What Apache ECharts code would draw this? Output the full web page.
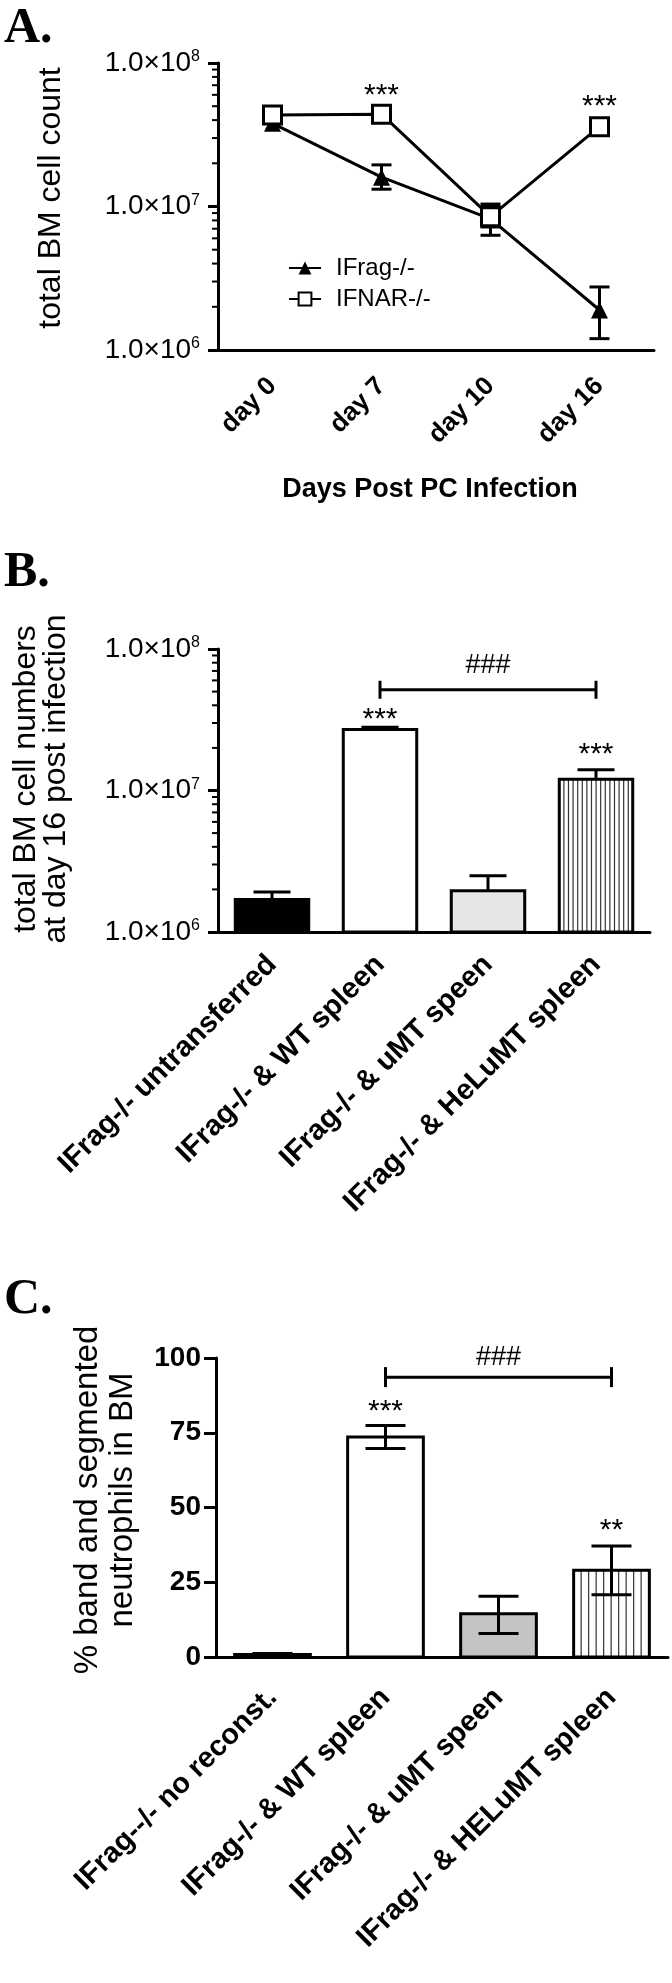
<!DOCTYPE html>
<html><head><meta charset="utf-8">
<script src="https://cdn.jsdelivr.net/npm/echarts@6/dist/echarts.min.js"></script>
<style>html,body{margin:0;padding:0;background:#fff}#c{width:672px;height:1983px}</style>
</head><body><div id="c"></div>
<script>
const F = '"Liberation Sans", Arial, Helvetica, sans-serif';
const SERIF = '"Liberation Serif", "Times New Roman", serif';

// ---------- Panel A ----------
const daysA = ['day 0', 'day 7', 'day 10', 'day 16'];
const ifragMean = [3.8e7, 1.6e7, 8.2e6, 1.9e6];
const ifragLow  = [3.8e7, 1.32e7, 6.3e6, 1.2e6];
const ifragHigh = [3.8e7, 1.95e7, 1.0e7, 2.75e6];
const ifnarMean = [4.35e7, 4.4e7, 8.5e6, 3.6e7];
const ifnarLow  = [4.35e7, 4.4e7, 7.2e6, 3.6e7];
const ifnarHigh = [4.35e7, 4.4e7, 1.04e7, 3.6e7];
const starsA    = ['', '***', '', '***'];
const starsAAt  = [null, 6.6e7, null, 5.5e7];

// ---------- Panel B ----------
const groupsB   = ['IFrag-/- untransferred', 'IFrag-/- & WT spleen', 'IFrag-/- & uMT speen', 'IFrag-/- & HeLuMT spleen'];
const meanB     = [1.7e6, 2.7e7, 1.96e6, 1.2e7];
const semHighB  = [1.92e6, 2.8e7, 2.5e6, 1.4e7];
const starsB    = ['', '***', '', '***'];
const starsBAt  = [null, 3.55e7, null, 1.98e7];
const bracketB  = [1, 3, 5.15e7, 7.6e7];   // from, to, line level, ### level

// ---------- Panel C ----------
const groupsC   = ['IFrag--/- no reconst.', 'IFrag-/- & WT spleen', 'IFrag-/- & uMT speen', 'IFrag-/- & HELuMT spleen'];
const meanC     = [0.8, 73.6, 14.5, 29.0];
const lowC      = [0.4, 69.7, 7.9, 20.8];
const highC     = [1.2, 77.4, 20.3, 37.1];
const starsC    = ['', '***', '', '**'];
const starsCAt  = [null, 84.3, null, 44.5];
const bracketC  = [1, 3, 93.6, 100.3];

const minorLog = [2e6,3e6,4e6,5e6,6e6,7e6,8e6,9e6,2e7,3e7,4e7,5e7,6e7,7e7,8e7,9e7];

// styles (not data)
const fillsB = ['#000000', '#ffffff', '#e6e6e6', '#ffffff'];
const fillsC = ['#000000', '#ffffff', '#c4c4c4', '#ffffff'];
const stripedBar = [false, false, false, true];

const axisLineStyle = {color: '#000', width: 3};

function minorTickRender(params, api) {
  const y = api.coord([0, api.value(1)])[1];
  const x0 = params.coordSys.x;
  return {type: 'line', shape: {x1: x0 - 6, y1: y, x2: x0, y2: y}, style: {stroke: '#000', lineWidth: 2}};
}
function makeErr(capW, lowCap) {
  return function (params, api) {
    const i = api.value(0);
    const pl = api.coord([i, api.value(1)]), ph = api.coord([i, api.value(2)]);
    const x = pl[0], h = capW / 2;
    const st = {stroke: '#000', lineWidth: 3};
    const ch = [
      {type: 'line', shape: {x1: x, y1: pl[1], x2: x, y2: ph[1]}, style: st},
      {type: 'line', shape: {x1: x - h, y1: ph[1], x2: x + h, y2: ph[1]}, style: st}
    ];
    if (lowCap) ch.push({type: 'line', shape: {x1: x - h, y1: pl[1], x2: x + h, y2: pl[1]}, style: st});
    return {type: 'group', children: ch};
  };
}
function makeBar(fills, base, frac, gap) {
  return function (params, api) {
    const i = api.value(0), v = api.value(1);
    const top = api.coord([i, v]);
    const bot = api.coord([i, base]);
    const band = api.coord([1, v])[0] - api.coord([0, v])[0];
    const w = band * frac;
    const x = top[0] - w / 2;
    const ch = [{type: 'rect', shape: {x: x, y: top[1], width: w, height: bot[1] - top[1]}, style: {fill: fills[i]}}];
    if (stripedBar[i]) {
      for (let sx = x + gap; sx < x + w - 1; sx += gap) {
        ch.push({type: 'line', shape: {x1: sx, y1: top[1], x2: sx, y2: bot[1]}, style: {stroke: '#333', lineWidth: 1.2}});
      }
    }
    ch.push({type: 'rect', shape: {x: x, y: top[1], width: w, height: bot[1] - top[1]}, style: {fill: 'none', stroke: '#000', lineWidth: 3}});
    return {type: 'group', children: ch};
  };
}
function makeStars(texts, fs) {
  return function (params, api) {
    const i = api.value(0);
    const p = api.coord([i, api.value(1)]);
    return {type: 'text', x: p[0], y: p[1] + fs * 0.22,
      style: {text: texts[i], font: fs + 'px ' + F, fill: '#000', align: 'center', verticalAlign: 'middle'}};
  };
}
function makeBracket(tick) {
  return function (params, api) {
    const a = api.coord([api.value(0), api.value(2)]);
    const b = api.coord([api.value(1), api.value(2)]);
    const m = api.coord([(api.value(0) + api.value(1)) / 2, api.value(3)]);
    const st = {stroke: '#000', lineWidth: 3};
    return {type: 'group', children: [
      {type: 'line', shape: {x1: a[0], y1: a[1], x2: b[0], y2: b[1]}, style: st},
      {type: 'line', shape: {x1: a[0], y1: a[1] - tick, x2: a[0], y2: a[1] + tick}, style: st},
      {type: 'line', shape: {x1: b[0], y1: b[1] - tick, x2: b[0], y2: b[1] + tick}, style: st},
      {type: 'text', x: m[0], y: m[1], style: {text: '###', font: '27px ' + F, fill: '#000', align: 'center', verticalAlign: 'middle'}}
    ]};
  };
}
function idxPairs(arrA, arrB) { return arrA.map((v, i) => [i, v, arrB[i]]); }
function starData(at) { return at.map((v, i) => v == null ? null : [i, v]).filter(d => d); }

const logLabel = {
  formatter: v => '{m|1.0×10}{s|' + Math.round(Math.log10(v)) + '}',
  margin: 18,
  rich: {
    m: {fontSize: 28, fontFamily: F, color: '#000'},
    s: {fontSize: 16, fontFamily: F, color: '#000', verticalAlign: 'top'}
  }
};
function catAxis(grid, data, fs, margin) {
  return {gridIndex: grid, type: 'category', data: data, boundaryGap: true,
    axisLine: {lineStyle: axisLineStyle},
    axisTick: {alignWithLabel: true, interval: 0, length: 10, lineStyle: {color: '#000', width: 3}},
    axisLabel: {rotate: 45, interval: 0, margin: margin, fontSize: fs, fontWeight: 'bold', fontFamily: F, color: '#000', hideOverlap: false},
    splitLine: {show: false}};
}
function logAxis(grid) {
  return {gridIndex: grid, type: 'log', logBase: 10, min: 1e6, max: 1e8,
    axisLine: {show: true, lineStyle: axisLineStyle},
    axisTick: {show: true, length: 10, lineStyle: {color: '#000', width: 3}},
    splitLine: {show: false}, axisLabel: logLabel};
}

const errA = [];
ifragMean.forEach((m, i) => { if (ifragHigh[i] > ifragLow[i]) errA.push([i, ifragLow[i], ifragHigh[i]]); });
ifnarMean.forEach((m, i) => { if (ifnarHigh[i] > ifnarLow[i]) errA.push([i, ifnarLow[i], ifnarHigh[i]]); });

const option = {
  animation: false,
  backgroundColor: '#fff',
  grid: [
    {left: 218, top: 63, width: 436, height: 287},
    {left: 218, top: 649, width: 432, height: 283},
    {left: 216, top: 1358, width: 452, height: 299}
  ],
  xAxis: [catAxis(0, daysA, 26, 32), catAxis(1, groupsB, 29, 28), catAxis(2, groupsC, 29, 36)],
  yAxis: [
    logAxis(0), logAxis(1),
    {gridIndex: 2, type: 'value', min: 0, max: 100, interval: 25,
      axisLine: {show: true, lineStyle: axisLineStyle},
      axisTick: {show: true, length: 12, lineStyle: {color: '#000', width: 3}},
      splitLine: {show: false},
      axisLabel: {fontSize: 28, fontWeight: 'bold', fontFamily: F, color: '#000', margin: 15}}
  ],
  legend: {
    orient: 'vertical', left: 283, top: 251, itemWidth: 32, itemHeight: 16, itemGap: 7,
    data: ['IFrag-/-', 'IFNAR-/-'],
    textStyle: {fontSize: 24, fontFamily: F, color: '#000', padding: [0, 0, 0, 10]}
  },
  graphic: [
    {type: 'text', left: 4, top: 4, style: {text: 'A.', font: 'bold 50px ' + SERIF, fill: '#000'}},
    {type: 'text', left: 4, top: 548, style: {text: 'B.', font: 'bold 50px ' + SERIF, fill: '#000'}},
    {type: 'text', left: 4, top: 1275, style: {text: 'C.', font: 'bold 50px ' + SERIF, fill: '#000'}},
    {type: 'text', x: 51, y: 198, rotation: Math.PI / 2,
      style: {text: 'total BM cell count', font: '32px ' + F, fill: '#000', align: 'center', verticalAlign: 'middle'}},
    {type: 'text', x: 41, y: 779, rotation: Math.PI / 2,
      style: {text: 'total BM cell numbers\nat day 16 post infection', font: '32px ' + F, lineHeight: 30, fill: '#000', align: 'center', verticalAlign: 'middle'}},
    {type: 'text', x: 105, y: 1500, rotation: Math.PI / 2,
      style: {text: '% band and segmented\nneutrophils in BM', font: '33px ' + F, lineHeight: 35, fill: '#000', align: 'center', verticalAlign: 'middle'}},
    {type: 'text', x: 430, y: 490,
      style: {text: 'Days Post PC Infection', font: 'bold 27px ' + F, fill: '#000', align: 'center', verticalAlign: 'middle'}}
  ],
  series: [
    // Panel A
    {type: 'custom', xAxisIndex: 0, yAxisIndex: 0, renderItem: makeErr(20, true), data: errA, encode: {x: 0, y: [1, 2]}, z: 2, silent: true},
    {name: 'IFrag-/-', type: 'line', xAxisIndex: 0, yAxisIndex: 0, data: ifragMean, symbol: 'triangle', symbolSize: 17,
      itemStyle: {color: '#000'}, lineStyle: {color: '#000', width: 3}, z: 3},
    {name: 'IFNAR-/-', type: 'line', xAxisIndex: 0, yAxisIndex: 0, data: ifnarMean, symbol: 'rect', symbolSize: 18,
      itemStyle: {color: '#fff', borderColor: '#000', borderWidth: 3}, lineStyle: {color: '#000', width: 3}, z: 4},
    {type: 'custom', xAxisIndex: 0, yAxisIndex: 0, renderItem: minorTickRender, data: minorLog.map(v => [0, v]), encode: {x: 0, y: 1}, silent: true},
    {type: 'custom', xAxisIndex: 0, yAxisIndex: 0, renderItem: makeStars(starsA, 30), data: starData(starsAAt), encode: {x: 0, y: 1}, silent: true},
    // Panel B
    {type: 'custom', xAxisIndex: 1, yAxisIndex: 1, renderItem: makeBar(fillsB, 1e6, 0.68, 4.6), data: meanB.map((v, i) => [i, v]), encode: {x: 0, y: 1}, z: 2, silent: true},
    {type: 'custom', xAxisIndex: 1, yAxisIndex: 1, renderItem: makeErr(37, false), data: idxPairs(meanB, semHighB), encode: {x: 0, y: [1, 2]}, z: 3, silent: true},
    {type: 'custom', xAxisIndex: 1, yAxisIndex: 1, renderItem: minorTickRender, data: minorLog.map(v => [0, v]), encode: {x: 0, y: 1}, silent: true},
    {type: 'custom', xAxisIndex: 1, yAxisIndex: 1, renderItem: makeStars(starsB, 30), data: starData(starsBAt), encode: {x: 0, y: 1}, silent: true},
    {type: 'custom', xAxisIndex: 1, yAxisIndex: 1, renderItem: makeBracket(9), data: [bracketB], encode: {x: [0, 1], y: [2, 3]}, silent: true},
    // Panel C
    {type: 'custom', xAxisIndex: 2, yAxisIndex: 2, renderItem: makeBar(fillsC, 0, 0.67, 7.5), data: meanC.map((v, i) => [i, v]), encode: {x: 0, y: 1}, z: 2, silent: true},
    {type: 'custom', xAxisIndex: 2, yAxisIndex: 2, renderItem: makeErr(40, true), data: lowC.map((v, i) => [i, v, highC[i]]), encode: {x: 0, y: [1, 2]}, z: 3, silent: true},
    {type: 'custom', xAxisIndex: 2, yAxisIndex: 2, renderItem: makeStars(starsC, 30), data: starData(starsCAt), encode: {x: 0, y: 1}, silent: true},
    {type: 'custom', xAxisIndex: 2, yAxisIndex: 2, renderItem: makeBracket(10), data: [bracketC], encode: {x: [0, 1], y: [2, 3]}, silent: true}
  ]
};
const chart = echarts.init(document.getElementById('c'), null, {renderer: 'canvas'});
chart.setOption(option);
</script></body></html>
